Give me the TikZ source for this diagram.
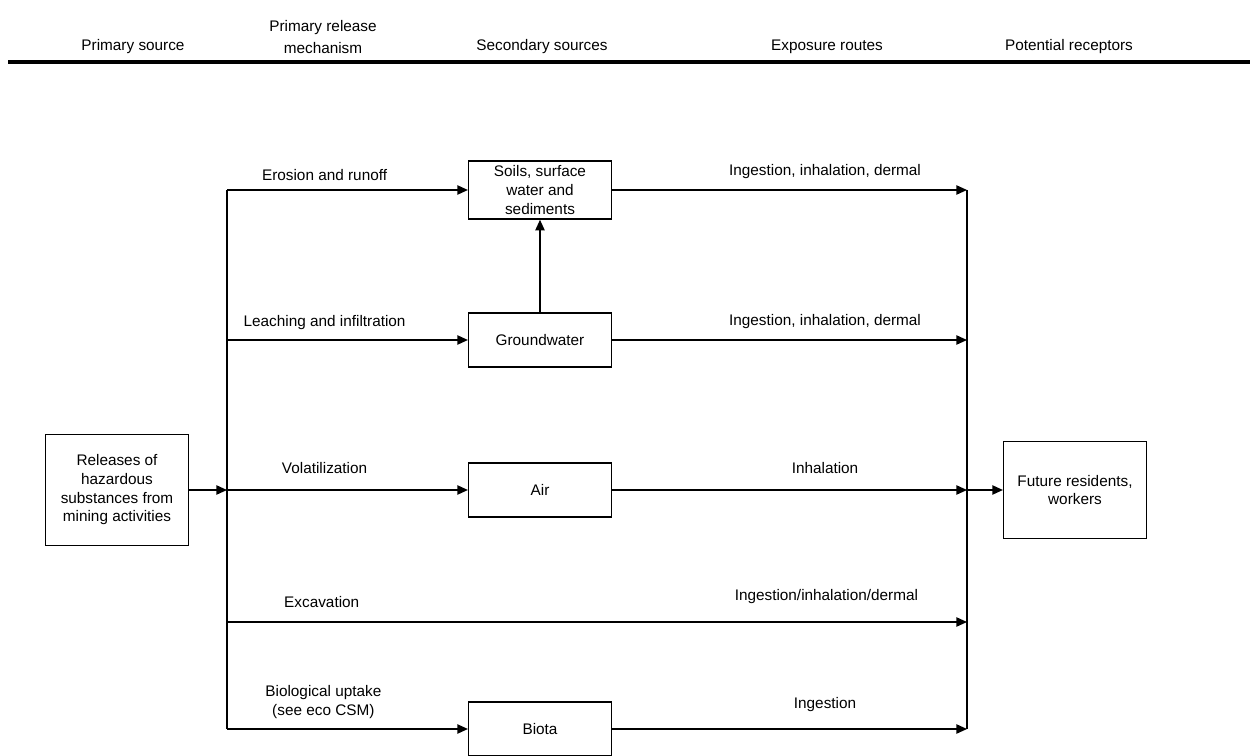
\documentclass[tikz,border=0pt]{standalone}
\usepackage{fontspec}
\setmainfont{Liberation Sans}
\usetikzlibrary{arrows.meta}

\tikzset{
  every node/.style={font=\fontsize{11.5}{14}\selectfont},
  head/.style={anchor=south, align=center, inner sep=2pt,
    font=\fontsize{11.5}{16.5}\selectfont},
  box/.style={draw, line width=1.1pt, minimum width=107pt, minimum height=40.5pt,
    align=center, inner sep=2pt},
  lab/.style={above=#1, align=center, inner sep=2pt},
  lab/.default=5pt,
  flow/.style={->, line width=1.1pt},
}

\begin{document}
\begin{tikzpicture}[x=0.75pt, y=-0.75pt, >={Triangle[length=8pt,width=7pt]}]
  \useasboundingbox (0,0) rectangle (1250,756);

  % column headings
  \node[head] (hsrc) at (133,57) {Primary source};
  \node[head] (hrel) at (323,57) {Primary release\\mechanism};
  \node[head] (hsec) at (542,57) {Secondary sources};
  \node[head] (hexp) at (827,57) {Exposure routes};
  \node[head] (hrec) at (1069,57) {Potential receptors};
  \draw[line width=3pt] (8,62) -- (1250,62);

  % boxes
  \node[box, minimum height=83pt] (src) at (117,490)
    {Releases of\\hazardous\\substances from\\mining activities};
  \node[box, minimum height=43.5pt] (soil) at (540,190)
    {Soils, surface\\water and\\sediments};
  \node[box] (gw) at (540,340) {Groundwater};
  \node[box] (air) at (540,490) {Air};
  \node[box] (biota) at (540,729) {Biota};
  \node[box, minimum height=73pt] (rec) at (1075,490) {Future residents,\\workers};

  % trunk and collector
  \coordinate (t1) at (227,190);
  \coordinate (t2) at (227,340);
  \coordinate (t3) at (227,490);
  \coordinate (t4) at (227,622);
  \coordinate (t5) at (227,729);
  \coordinate (b1) at (967,190);
  \coordinate (b2) at (967,340);
  \coordinate (b3) at (967,490);
  \coordinate (b4) at (967,622);
  \coordinate (b5) at (967,729);
  \draw[line width=1.1pt] (t1) -- (t5);
  \draw[line width=1.1pt] (b1) -- (b5);

  \path[flow]
    (src) edge (t3)
    (t1) edge node[lab=4.7pt, pos=0.405] {Erosion and runoff} (soil)
    (t2) edge node[lab=5.5pt, pos=0.405] {Leaching and infiltration} (gw)
    (t3) edge node[lab=10pt, pos=0.405] {Volatilization} (air)
    (t4) edge node[lab=8.5pt, pos=0.128] {Excavation}
              node[lab=11.5pt, pos=0.81] {Ingestion/inhalation/dermal} (b4)
    (t5) edge node[lab=5.5pt, pos=0.4] {Biological uptake\\(see eco CSM)} (biota)
    (gw) edge (soil)
    (soil) edge node[lab=6.2pt, pos=0.6] {Ingestion, inhalation, dermal} (b1)
    (gw) edge node[lab=6.2pt, pos=0.6] {Ingestion, inhalation, dermal} (b2)
    (air) edge node[lab=10pt, pos=0.6] {Inhalation} (b3)
    (biota) edge node[lab=10.7pt, pos=0.6] {Ingestion} (b5)
    (b3) edge (rec);
\end{tikzpicture}
\end{document}
